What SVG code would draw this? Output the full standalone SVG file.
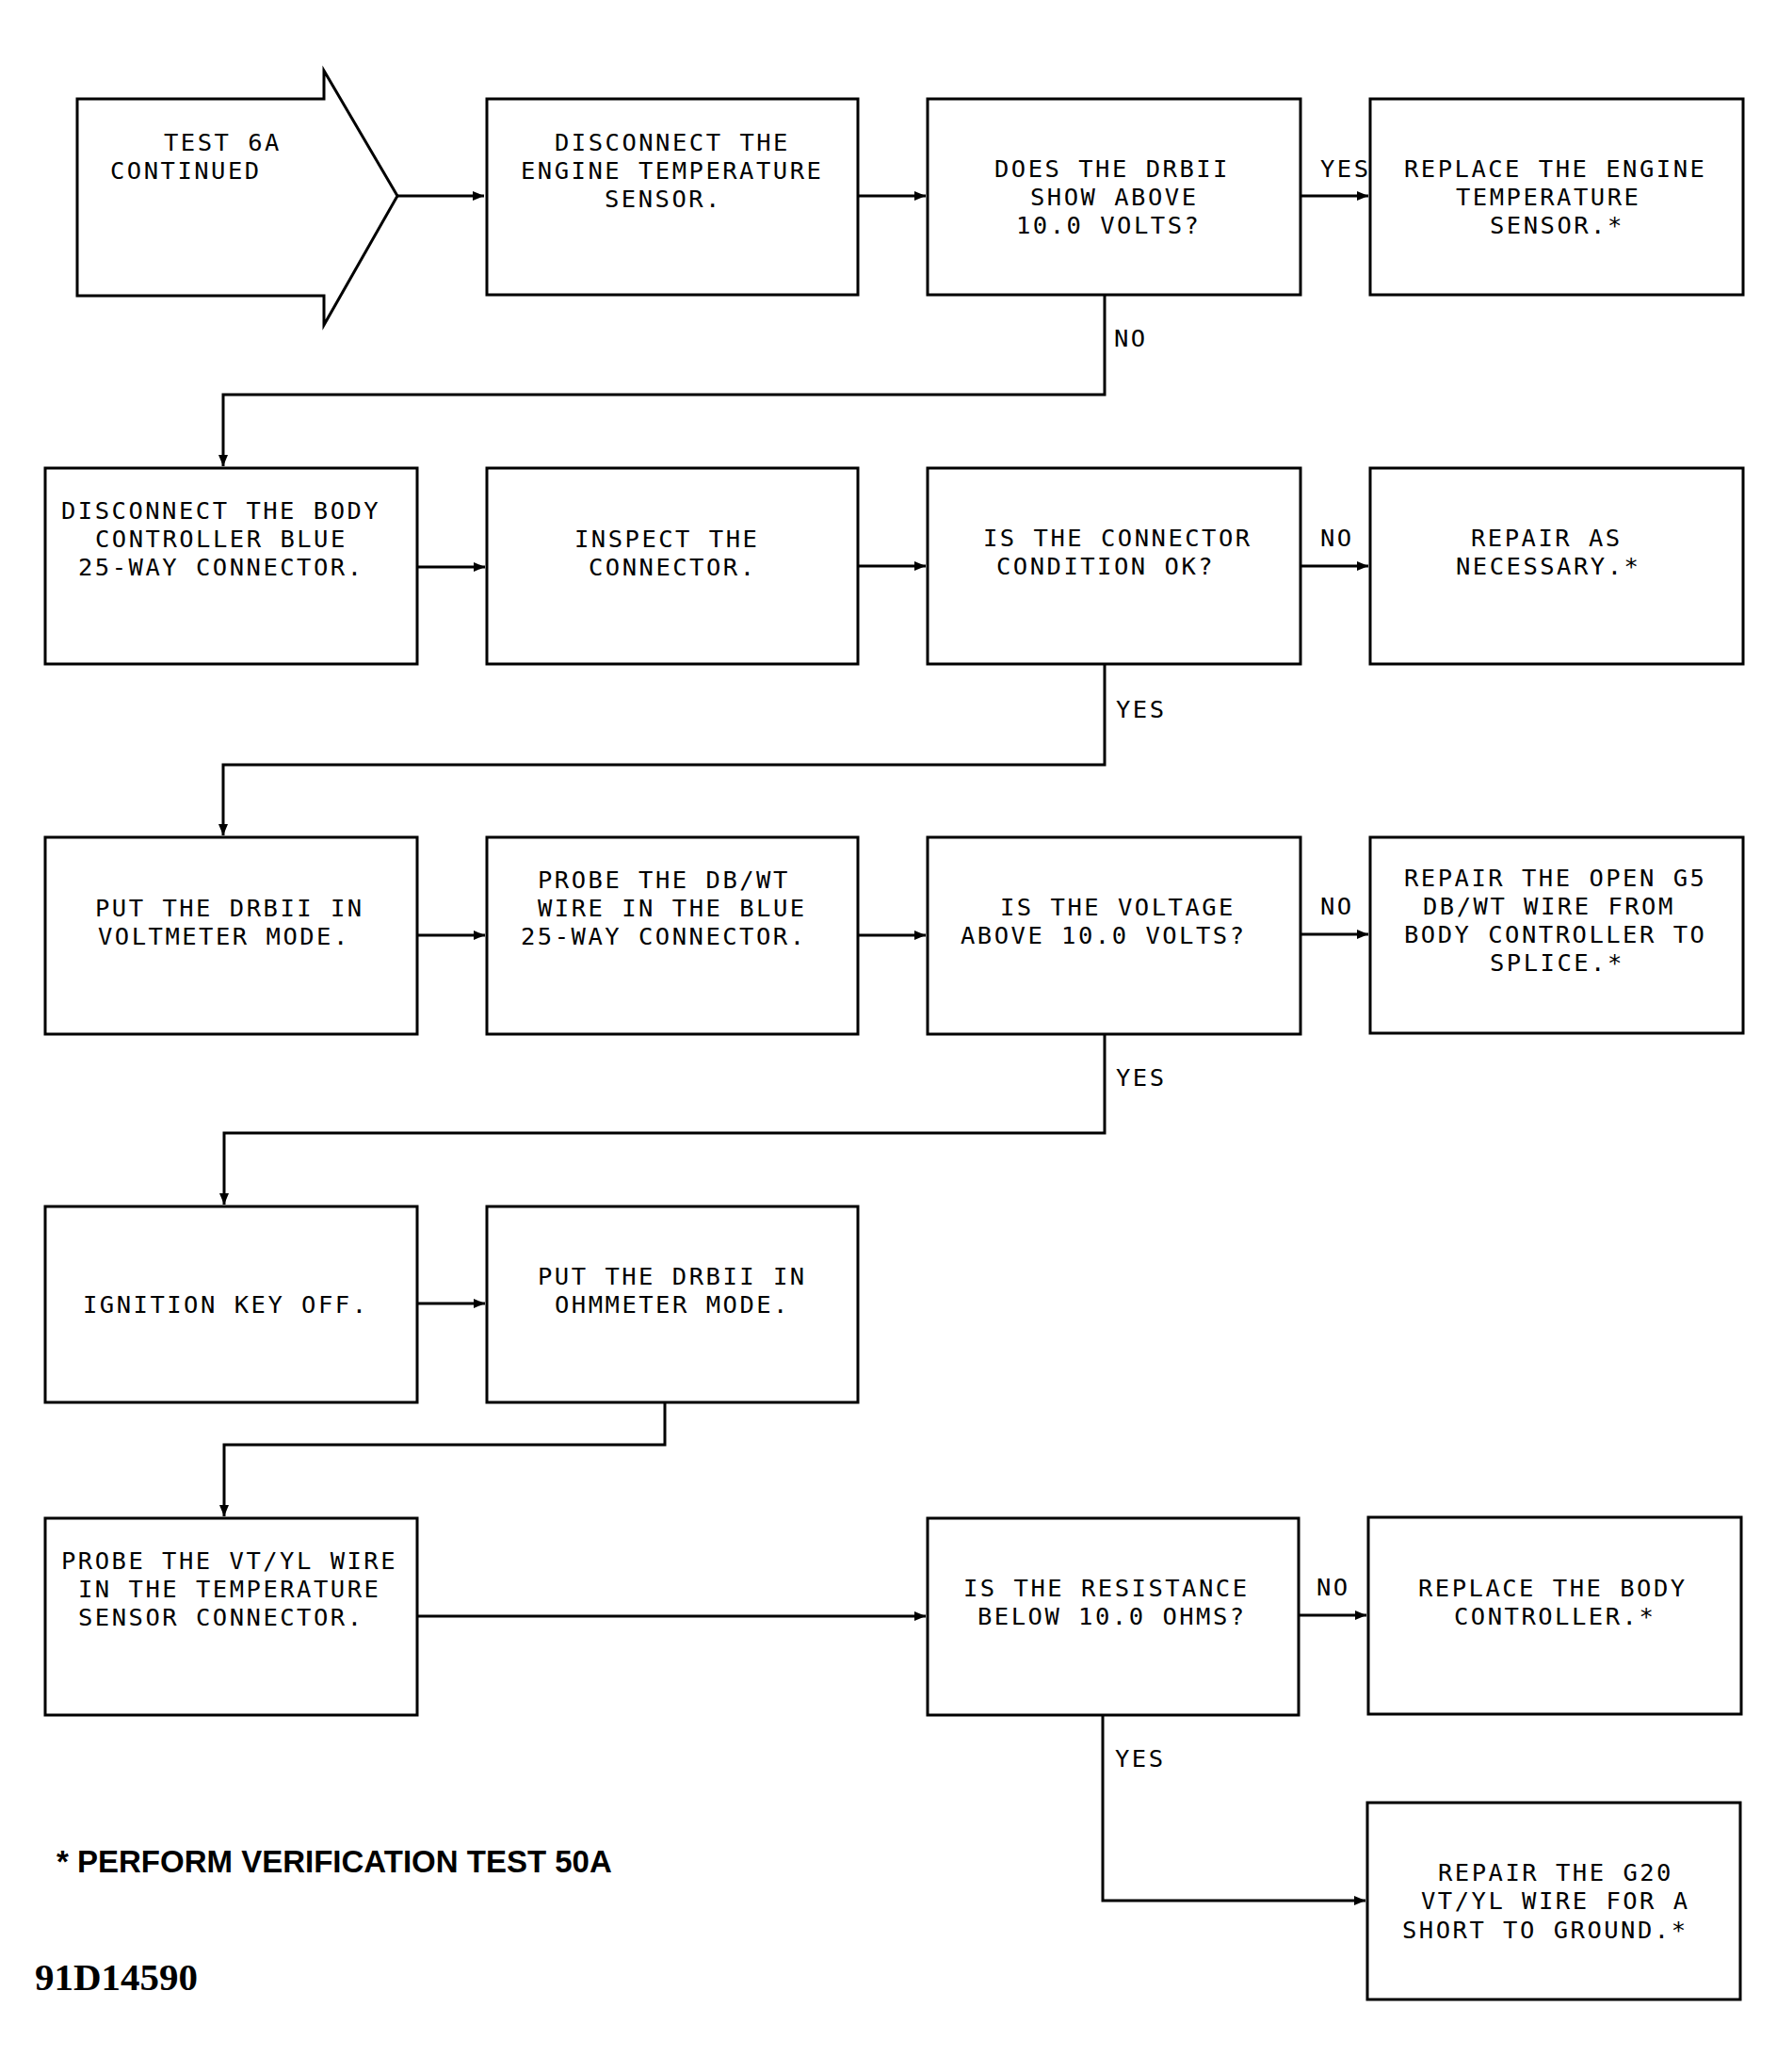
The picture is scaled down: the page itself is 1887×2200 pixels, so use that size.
<svg xmlns="http://www.w3.org/2000/svg" width="1887" height="2200" viewBox="0 0 1887 2200">
<style>
.box{fill:#fff;stroke:#000;stroke-width:3}
.t{font-family:"DejaVu Sans Mono",monospace;font-size:25.5px;letter-spacing:2.5px;fill:#000}
.lbl{font-family:"DejaVu Sans Mono",monospace;font-size:25.5px;letter-spacing:2.5px;fill:#000}
.c{fill:none;stroke:#000;stroke-width:3}
.note{font-family:"Liberation Sans",Arial,sans-serif;font-weight:bold;font-size:33px;fill:#000}
.code{font-family:"Liberation Serif","Times New Roman",serif;font-weight:bold;font-size:41px;fill:#000}
</style>
<defs>
<marker id="ah" markerUnits="userSpaceOnUse" markerWidth="14" markerHeight="12" refX="12" refY="6" orient="auto">
<path d="M0,1 L12,6 L0,11 z" fill="#000"/>
</marker>
</defs>
<rect width="1887" height="2200" fill="#fff"/>

<g id="connectors">
<path class="c" d="M422,208 H514" marker-end="url(#ah)"/>
<path class="c" d="M911,208 H983" marker-end="url(#ah)"/>
<path class="c" d="M1381,208 H1453" marker-end="url(#ah)"/>
<path class="c" d="M1173,314 V419 H237 V495" marker-end="url(#ah)"/>
<path class="c" d="M443,602 H515" marker-end="url(#ah)"/>
<path class="c" d="M911,601 H983" marker-end="url(#ah)"/>
<path class="c" d="M1381,601 H1453" marker-end="url(#ah)"/>
<path class="c" d="M1173,705 V812 H237 V887" marker-end="url(#ah)"/>
<path class="c" d="M443,993 H515" marker-end="url(#ah)"/>
<path class="c" d="M911,993 H983" marker-end="url(#ah)"/>
<path class="c" d="M1381,992 H1453" marker-end="url(#ah)"/>
<path class="c" d="M1173,1098 V1203 H238 V1279" marker-end="url(#ah)"/>
<path class="c" d="M443,1384 H515" marker-end="url(#ah)"/>
<path class="c" d="M706,1489 V1534 H238 V1610" marker-end="url(#ah)"/>
<path class="c" d="M443,1716 H983" marker-end="url(#ah)"/>
<path class="c" d="M1379,1715 H1451" marker-end="url(#ah)"/>
<path class="c" d="M1171,1821 V2018 H1450" marker-end="url(#ah)"/>
<text class="lbl" x="1402" y="188">YES</text>
<text class="lbl" x="1183" y="368">NO</text>
<text class="lbl" x="1402" y="580">NO</text>
<text class="lbl" x="1185" y="762">YES</text>
<text class="lbl" x="1402" y="971">NO</text>
<text class="lbl" x="1185" y="1153">YES</text>
<text class="lbl" x="1398" y="1694">NO</text>
<text class="lbl" x="1184" y="1876">YES</text>
</g>

<g id="n_start">
<path class="box" d="M82,105 H344 V75 L422,208 L344,345 V314 H82 Z"/>
<text class="t" x="174" y="160">TEST 6A</text>
<text class="t" x="117" y="190">CONTINUED</text>
</g>

<g id="n_disconnect_sensor">
<rect class="box" x="517" y="105" width="394" height="208"/>
<text class="t" x="589" y="160">DISCONNECT THE</text>
<text class="t" x="553" y="190">ENGINE TEMPERATURE</text>
<text class="t" x="642" y="220">SENSOR.</text>
</g>

<g id="n_q_volts">
<rect class="box" x="985" y="105" width="396" height="208"/>
<text class="t" x="1056" y="188">DOES THE DRBII</text>
<text class="t" x="1094" y="218">SHOW ABOVE</text>
<text class="t" x="1079" y="248">10.0 VOLTS?</text>
</g>

<g id="n_replace_sensor">
<rect class="box" x="1455" y="105" width="396" height="208"/>
<text class="t" x="1491" y="188">REPLACE THE ENGINE</text>
<text class="t" x="1546" y="218">TEMPERATURE</text>
<text class="t" x="1582" y="248">SENSOR.*</text>
</g>

<g id="n_disconnect_body">
<rect class="box" x="48" y="497" width="395" height="208"/>
<text class="t" x="65" y="551">DISCONNECT THE BODY</text>
<text class="t" x="101" y="581">CONTROLLER BLUE</text>
<text class="t" x="83" y="611">25-WAY CONNECTOR.</text>
</g>

<g id="n_inspect">
<rect class="box" x="517" y="497" width="394" height="208"/>
<text class="t" x="610" y="581">INSPECT THE</text>
<text class="t" x="625" y="611">CONNECTOR.</text>
</g>

<g id="n_q_connector">
<rect class="box" x="985" y="497" width="396" height="208"/>
<text class="t" x="1044" y="580">IS THE CONNECTOR</text>
<text class="t" x="1058" y="610">CONDITION OK?</text>
</g>

<g id="n_repair_as">
<rect class="box" x="1455" y="497" width="396" height="208"/>
<text class="t" x="1562" y="580">REPAIR AS</text>
<text class="t" x="1546" y="610">NECESSARY.*</text>
</g>

<g id="n_voltmeter">
<rect class="box" x="48" y="889" width="395" height="209"/>
<text class="t" x="101" y="973">PUT THE DRBII IN</text>
<text class="t" x="104" y="1003">VOLTMETER MODE.</text>
</g>

<g id="n_probe_dbwt">
<rect class="box" x="517" y="889" width="394" height="209"/>
<text class="t" x="571" y="943">PROBE THE DB/WT</text>
<text class="t" x="571" y="973">WIRE IN THE BLUE</text>
<text class="t" x="553" y="1003">25-WAY CONNECTOR.</text>
</g>

<g id="n_q_voltage">
<rect class="box" x="985" y="889" width="396" height="209"/>
<text class="t" x="1062" y="972">IS THE VOLTAGE</text>
<text class="t" x="1020" y="1002">ABOVE 10.0 VOLTS?</text>
</g>

<g id="n_repair_g5">
<rect class="box" x="1455" y="889" width="396" height="208"/>
<text class="t" x="1491" y="941">REPAIR THE OPEN G5</text>
<text class="t" x="1511" y="971">DB/WT WIRE FROM</text>
<text class="t" x="1491" y="1001">BODY CONTROLLER TO</text>
<text class="t" x="1582" y="1031">SPLICE.*</text>
</g>

<g id="n_key_off">
<rect class="box" x="48" y="1281" width="395" height="208"/>
<text class="t" x="88" y="1394">IGNITION KEY OFF.</text>
</g>

<g id="n_ohmmeter">
<rect class="box" x="517" y="1281" width="394" height="208"/>
<text class="t" x="571" y="1364">PUT THE DRBII IN</text>
<text class="t" x="589" y="1394">OHMMETER MODE.</text>
</g>

<g id="n_probe_vtyl">
<rect class="box" x="48" y="1612" width="395" height="209"/>
<text class="t" x="65" y="1666">PROBE THE VT/YL WIRE</text>
<text class="t" x="83" y="1696">IN THE TEMPERATURE</text>
<text class="t" x="83" y="1726">SENSOR CONNECTOR.</text>
</g>

<g id="n_q_resistance">
<rect class="box" x="985" y="1612" width="394" height="209"/>
<text class="t" x="1023" y="1695">IS THE RESISTANCE</text>
<text class="t" x="1038" y="1725">BELOW 10.0 OHMS?</text>
</g>

<g id="n_replace_body">
<rect class="box" x="1453" y="1611" width="396" height="209"/>
<text class="t" x="1506" y="1695">REPLACE THE BODY</text>
<text class="t" x="1544" y="1725">CONTROLLER.*</text>
</g>

<g id="n_repair_g20">
<rect class="box" x="1452" y="1914" width="396" height="209"/>
<text class="t" x="1527" y="1997">REPAIR THE G20</text>
<text class="t" x="1509" y="2027">VT/YL WIRE FOR A</text>
<text class="t" x="1489" y="2058">SHORT TO GROUND.*</text>
</g>

<text class="note" x="60" y="1988">* PERFORM VERIFICATION TEST 50A</text>
<text class="code" x="37" y="2113">91D14590</text>
</svg>
